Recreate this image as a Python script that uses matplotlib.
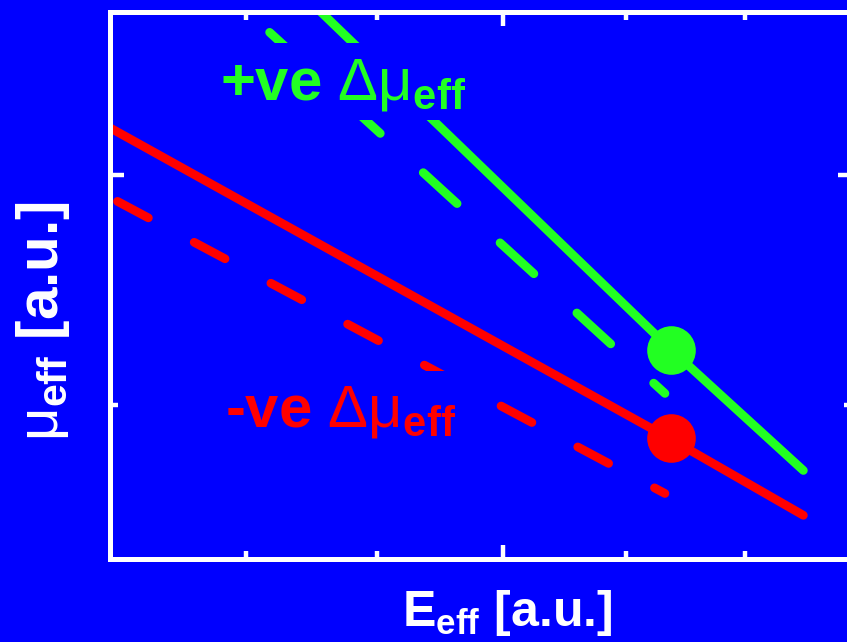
import numpy as np
import matplotlib.pyplot as plt
from matplotlib.path import Path

plt.rcParams['font.family'] = ['Liberation Sans', 'DejaVu Sans']
plt.rcParams['mathtext.fontset'] = 'custom'
plt.rcParams['mathtext.rm'] = 'Liberation Sans'
plt.rcParams['mathtext.bf'] = 'Liberation Sans:bold'
plt.rcParams['mathtext.it'] = 'Liberation Sans:italic'
plt.rcParams['lines.scale_dashes'] = False

BLUE = '#0000ff'
GREEN = '#22ff22'
RED = '#ff0000'

# lines (arbitrary units)
red_solid_x = [-0.05, 4.5, 5.56]
red_solid_y = [3.78, 1.04, 0.38]
red_dash_x = [0.06, 4.45]
red_dash_y = [3.11, 0.57]
green_solid_x = [1.66, 4.5, 5.56]
green_solid_y = [4.79, 1.82, 0.77]
green_dash_x = [1.28, 4.45]
green_dash_y = [4.58, 1.44]
dot_x = [4.5, 4.5]
dot_y = [1.82, 1.05]

xticks_major = [3.15]
xticks_minor = [1.09, 2.14, 4.14, 5.09]
yticks_major = [3.34]
yticks_minor = [1.34]


def tall_box(x0, y0, width, height, mutation_size):
    # blue patch behind the labels, a bit taller above the text than below
    top = 0.22 * mutation_size
    bottom = 0.13 * mutation_size
    side = 0.1 * mutation_size
    return Path([(x0 - side, y0 - bottom), (x0 + width + side, y0 - bottom),
                 (x0 + width + side, y0 + height + top),
                 (x0 - side, y0 + height + top), (x0 - side, y0 - bottom)],
                closed=True)


fig = plt.figure(figsize=(8.47, 6.42), dpi=100, facecolor=BLUE)
ax = fig.add_axes([110 / 847, 83 / 642, 742 / 847, 547 / 642])
ax.set_facecolor(BLUE)
ax.set_xlim(0, 5.95)
ax.set_ylim(0, 4.757)

lw = 6.3
ax.plot(red_solid_x, red_solid_y, color=RED, lw=lw, solid_capstyle='round')
ax.plot(red_dash_x, red_dash_y, color=RED, lw=lw, dashes=(25.2, 37.4),
        dash_capstyle='round')
ax.plot(green_solid_x, green_solid_y, color=GREEN, lw=lw, solid_capstyle='round')
ax.plot(green_dash_x, green_dash_y, color=GREEN, lw=lw, dashes=(33.0, 41.9),
        dash_capstyle='round')
ax.plot(dot_x[0], dot_y[0], 'o', ms=35, color=GREEN, mec='none')
ax.plot(dot_x[1], dot_y[1], 'o', ms=35, color=RED, mec='none')

box = dict(boxstyle=tall_box, facecolor=BLUE, edgecolor='none')
ax.text(0.88, 4.0, r'+ve $\mathrm{\Delta\mu}_{\mathbf{eff}}$', color=GREEN,
        fontsize=43, fontweight='bold', va='baseline', bbox=box, zorder=3)
ax.text(0.92, 1.15, r'-ve $\mathrm{\Delta\mu}_{\mathbf{eff}}$', color=RED,
        fontsize=43, fontweight='bold', va='baseline', bbox=box, zorder=3)

ax.set_xlabel(r'E$_{\mathbf{eff}}$ [a.u.]', fontsize=36, fontweight='bold',
              color='white')
ax.xaxis.set_label_coords(0.536, -0.053)
ax.set_ylabel(r'$\mathrm{\mu}_{\mathbf{eff}}$ [a.u.]', fontsize=42,
              fontweight='bold', color='white')
ax.yaxis.set_label_coords(-0.051, 0.435)

ax.set_xticks(xticks_major)
ax.set_xticks(xticks_minor, minor=True)
ax.set_yticks(yticks_major)
ax.set_yticks(yticks_minor, minor=True)
ax.tick_params(which='both', direction='in', top=True, right=True,
               color='white', width=3.2, labelbottom=False, labelleft=False)
ax.tick_params(which='major', length=10)
ax.tick_params(which='minor', length=5.5)
for s in ax.spines.values():
    s.set_color('white')
    s.set_linewidth(3.6)

fig.savefig('out.png', dpi=100, facecolor=BLUE)
